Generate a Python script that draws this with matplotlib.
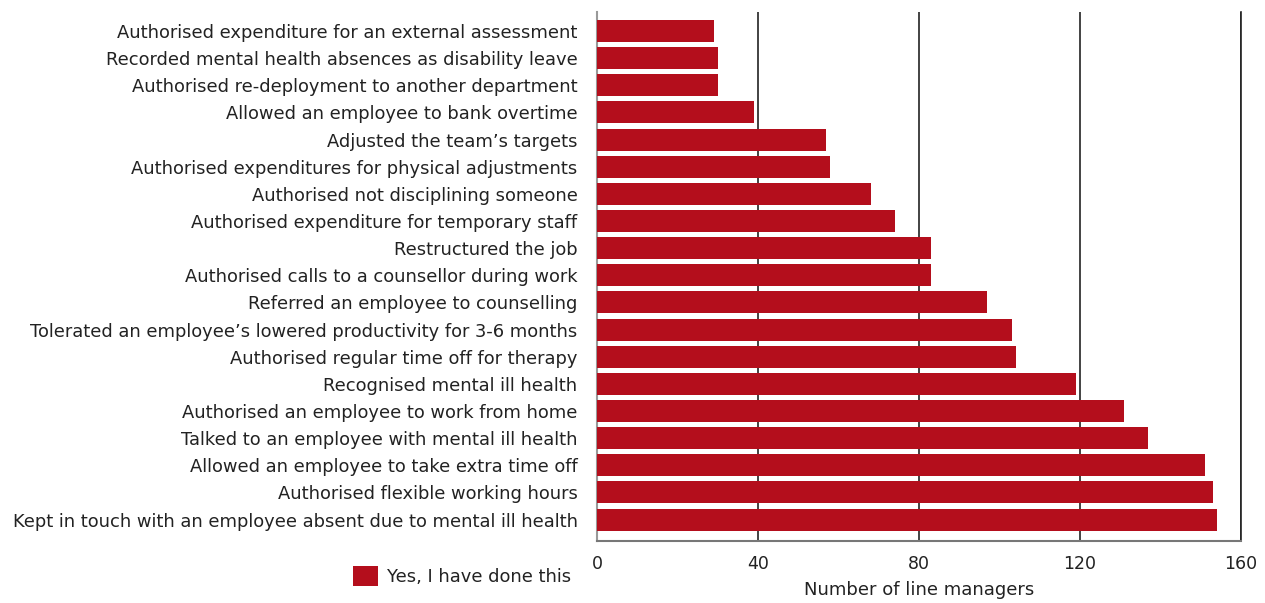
import matplotlib
matplotlib.use("Agg")
import matplotlib.pyplot as plt
from matplotlib.patches import Patch

categories = [
    "Authorised expenditure for an external assessment",
    "Recorded mental health absences as disability leave",
    "Authorised re-deployment to another department",
    "Allowed an employee to bank overtime",
    "Adjusted the team\u2019s targets",
    "Authorised expenditures for physical adjustments",
    "Authorised not disciplining someone",
    "Authorised expenditure for temporary staff",
    "Restructured the job",
    "Authorised calls to a counsellor during work",
    "Referred an employee to counselling",
    "Tolerated an employee\u2019s lowered productivity for 3-6 months",
    "Authorised regular time off for therapy",
    "Recognised mental ill health",
    "Authorised an employee to work from home",
    "Talked to an employee with mental ill health",
    "Allowed an employee to take extra time off",
    "Authorised flexible working hours",
    "Kept in touch with an employee absent due to mental ill health",
]
values = [29, 30, 30, 39, 57, 58, 68, 74, 83, 83, 97, 103, 104, 119, 131, 137, 151, 153, 154]
xticks = [0, 40, 80, 120, 160]
legend_label = "Yes, I have done this"
xlabel = "Number of line managers"

bar_color = "#B40E1C"
text_color = "#222222"
font = "DejaVu Sans"
fs = 12.9

fig = plt.figure(figsize=(12.65, 6.03), dpi=100)
ax = fig.add_axes([597/1265, 1-541/603, (1241-597)/1265, (541-12)/603])

pos = list(range(len(categories)))
ax.barh(pos, values, height=0.81, color=bar_color, zorder=3)
ax.set_ylim(len(categories) - 1 + 0.79, -0.70)
ax.set_xlim(0, 160)
ax.set_xticks(xticks)
ax.set_xticklabels([str(t) for t in xticks], fontsize=12.5, color=text_color, family=font)
ax.set_yticks(pos)
ax.set_yticklabels(categories, fontsize=fs, color=text_color, family=font)
ax.tick_params(axis="y", length=0, pad=14)
ax.tick_params(axis="x", length=0, pad=10)
ax.grid(axis="x", color="#222222", linewidth=1.2, zorder=1)
ax.spines["top"].set_visible(False)
ax.spines["left"].set_color("#999999")
ax.spines["left"].set_linewidth(1.5)
ax.spines["bottom"].set_color("#777777")
ax.spines["bottom"].set_linewidth(1.5)
ax.spines["right"].set_color("#222222")
ax.spines["right"].set_linewidth(1.2)
ax.set_xlabel(xlabel, fontsize=13, color=text_color, family=font, labelpad=6)

handles = [Patch(facecolor=bar_color, label=legend_label)]
fig.legend(handles=handles, loc="center left", bbox_to_anchor=(337/1265, 1-576/603),
           frameon=False, prop={"family": font, "size": fs},
           handlelength=1.4, handleheight=1.4, handletextpad=0.5, labelcolor=text_color)

fig.savefig("out.png", dpi=100)
